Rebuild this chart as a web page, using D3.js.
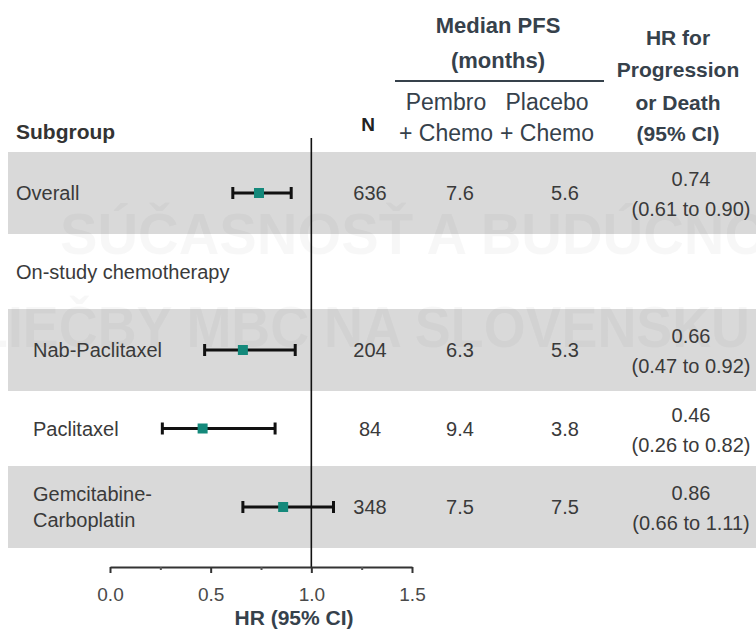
<!DOCTYPE html>
<html>
<head>
<meta charset="utf-8">
<script src="https://cdn.jsdelivr.net/npm/d3@7"></script>
<style>
  body { margin: 0; background: #fff; }
  text { font-family: "Liberation Sans", Arial, sans-serif; }
</style>
</head>
<body>
<svg id="chart"></svg>
<script>
// Data
const subgroups = ["Overall", "On-study chemotherapy", "Nab-Paclitaxel", "Paclitaxel", "Gemcitabine-\nCarboplatin"];
const rowLevel = [0, 0, 1, 1, 1];
const nPatients = [636, null, 204, 84, 348];
const pfsPembro = [7.6, null, 6.3, 9.4, 7.5];
const pfsPlacebo = [5.6, null, 5.3, 3.8, 7.5];
const hrPoint = [0.74, null, 0.66, 0.46, 0.86];
const hrLow = [0.61, null, 0.47, 0.26, 0.66];
const hrHigh = [0.9, null, 0.92, 0.82, 1.11];
const majorTicks = [0, 0.5, 1.0, 1.5];
const minorTicks = [0.25, 0.75, 1.25];

const rows = subgroups.map((s, i) => ({
  label: s,
  level: rowLevel[i],
  n: nPatients[i],
  pembro: pfsPembro[i],
  placebo: pfsPlacebo[i],
  hr: hrPoint[i],
  lo: hrLow[i],
  hi: hrHigh[i],
  shaded: i % 2 === 0,
}));

// Chart dimensions
const width = 756;
const height = 632;
const axisY = 567;

const headColor = "#36414b";
const textColor = "#3a3a3a";

// Scales
const xScale = d3.scaleLinear().domain([0, 1.5]).range([110, 412]);
const yScale = d3.scalePoint().domain(subgroups).range([193, 507]);

const svg = d3.select("#chart").attr("width", width).attr("height", height);

// Shaded row bands
svg
  .selectAll(".band")
  .data(rows.filter((d) => d.shaded))
  .enter()
  .append("rect")
  .attr("class", "band")
  .attr("x", 8)
  .attr("y", (d) => yScale(d.label) - 41)
  .attr("width", width - 8)
  .attr("height", 82)
  .attr("fill", "#d9d9d9");

// Faint watermark
const watermark = svg.append("g").attr("fill", "#000").attr("fill-opacity", 0.03)
  .style("font-weight", "bold").style("font-size", "58px");
watermark.append("text").attr("x", 60).attr("y", 254)
  .attr("textLength", 780).attr("lengthAdjust", "spacingAndGlyphs")
  .text("SÚČASNOSŤ A BUDÚCNOSŤ");
watermark.append("text").attr("x", -25).attr("y", 347)
  .attr("textLength", 775).attr("lengthAdjust", "spacingAndGlyphs")
  .text("LIEČBY MBC NA SLOVENSKU");

// Column headers
svg.append("text").attr("x", 16).attr("y", 139).attr("fill", "#333")
  .style("font-weight", "bold").style("font-size", "21px").text("Subgroup");
svg.append("text").attr("x", 368).attr("y", 131).attr("fill", "#222")
  .style("text-anchor", "middle").style("font-weight", "bold").style("font-size", "19px").text("N");

const pfsHead = svg.append("g").attr("fill", headColor).style("text-anchor", "middle");
pfsHead.append("text").attr("x", 498).attr("y", 33)
  .style("font-weight", "bold").style("font-size", "22px").text("Median PFS");
pfsHead.append("text").attr("x", 498).attr("y", 68)
  .style("font-weight", "bold").style("font-size", "22px").text("(months)");
svg.append("line").attr("x1", 395).attr("x2", 604).attr("y1", 81).attr("y2", 81)
  .attr("stroke", headColor).attr("stroke-width", 2);
[["Pembro", "+ Chemo", 446], ["Placebo", "+ Chemo", 547]].forEach(([a, b, x]) => {
  pfsHead.append("text").attr("x", x).attr("y", 110).style("font-size", "23px").text(a);
  pfsHead.append("text").attr("x", x).attr("y", 141).style("font-size", "23px").text(b);
});

const hrHead = svg.append("g").attr("fill", headColor).style("text-anchor", "middle")
  .style("font-weight", "bold").style("font-size", "21px");
["HR for", "Progression", "or Death", "(95% CI)"].forEach((t, i) => {
  hrHead.append("text").attr("x", 678).attr("y", [45, 77, 110, 141][i]).text(t);
});

// Row labels
const labels = svg.append("g").attr("fill", textColor).style("font-size", "20px");
rows.forEach((d) => {
  const lines = d.label.split("\n");
  lines.forEach((line, j) => {
    labels
      .append("text")
      .attr("x", d.level ? 33 : 16)
      .attr("y", yScale(d.label) + 7 + (j - (lines.length - 1) / 2) * 26)
      .text(line);
  });
});

// Value columns
const dataRows = rows.filter((d) => d.hr !== null);
const cols = svg.append("g").attr("fill", textColor).style("font-size", "20px").style("text-anchor", "middle");
dataRows.forEach((d) => {
  const y = yScale(d.label);
  cols.append("text").attr("x", 370).attr("y", y + 7).text(d.n);
  cols.append("text").attr("x", 460).attr("y", y + 7).text(d.pembro.toFixed(1));
  cols.append("text").attr("x", 565).attr("y", y + 7).text(d.placebo.toFixed(1));
  cols.append("text").attr("x", 691).attr("y", y - 7).text(d.hr.toFixed(2));
  cols.append("text").attr("x", 691).attr("y", y + 23)
    .text(`(${d.lo.toFixed(2)} to ${d.hi.toFixed(2)})`);
});

// Reference line at HR = 1
svg.append("line")
  .attr("x1", xScale(1)).attr("x2", xScale(1))
  .attr("y1", 138).attr("y2", axisY)
  .attr("stroke", "#111").attr("stroke-width", 1.6);

// Confidence intervals
const ci = svg.selectAll(".ci").data(dataRows).enter().append("g").attr("class", "ci")
  .attr("stroke", "#111").attr("stroke-width", 3);
ci.append("line")
  .attr("x1", (d) => xScale(d.lo)).attr("x2", (d) => xScale(d.hi))
  .attr("y1", (d) => yScale(d.label)).attr("y2", (d) => yScale(d.label));
ci.append("line")
  .attr("x1", (d) => xScale(d.lo)).attr("x2", (d) => xScale(d.lo))
  .attr("y1", (d) => yScale(d.label) - 6).attr("y2", (d) => yScale(d.label) + 6);
ci.append("line")
  .attr("x1", (d) => xScale(d.hi)).attr("x2", (d) => xScale(d.hi))
  .attr("y1", (d) => yScale(d.label) - 6).attr("y2", (d) => yScale(d.label) + 6);

// Point estimates
svg
  .selectAll(".dot")
  .data(dataRows)
  .enter()
  .append("rect")
  .attr("class", "dot")
  .attr("x", (d) => xScale(d.hr) - 5)
  .attr("y", (d) => yScale(d.label) - 5)
  .attr("width", 10)
  .attr("height", 10)
  .attr("fill", "#14897b");

// X axis
const xAxis = d3.axisBottom(xScale).tickValues(majorTicks).tickFormat(d3.format(".1f"))
  .tickSize(6).tickSizeOuter(0).tickPadding(15);
const gx = svg.append("g").attr("transform", `translate(0, ${axisY})`).call(xAxis);
gx.select(".domain").attr("stroke", "#333").attr("stroke-width", 2);
gx.selectAll(".tick line").attr("stroke", "#333").attr("stroke-width", 2);
gx.selectAll("text").attr("fill", "#4a4a4a").style("font-size", "19px").style("font-family", "Liberation Sans, Arial");

const minorAxis = d3.axisBottom(xScale).tickValues(minorTicks).tickSize(3).tickSizeOuter(0).tickFormat("");
const gm = svg.append("g").attr("transform", `translate(0, ${axisY})`).call(minorAxis);
gm.select(".domain").remove();
gm.selectAll(".tick line").attr("stroke", "#555").attr("stroke-width", 2);

// X axis label
svg.append("text").attr("x", 294).attr("y", 625).attr("fill", headColor)
  .style("text-anchor", "middle").style("font-weight", "bold").style("font-size", "21px")
  .text("HR (95% CI)");
</script>
</body>
</html>
